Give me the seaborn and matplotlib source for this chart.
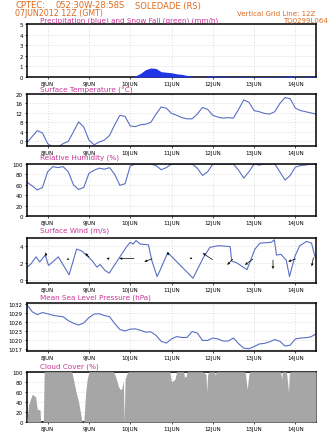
import numpy as np
import pandas as pd
import matplotlib
matplotlib.use("Agg")
import matplotlib.pyplot as plt
import seaborn as sns

# ---------------------------------------------------------------- data
# time axis: hours after 08JUN2012 00Z, 3-hourly
hours_3h = np.arange(0, 169, 3)
day_ticks = [12, 36, 60, 84, 108, 132, 156]
day_labels = ["8JUN", "9JUN", "10JUN", "11JUN", "12JUN", "13JUN", "14JUN"]

precip = [0, 0, 0, 0, 0, 0, 0, 0,
          0, 0, 0, 0, 0, 0, 0, 0,
          0, 0, 0, 0, 0, 0.10, 0.35, 0.70,
          0.85, 0.80, 0.50, 0.45, 0.40, 0.30, 0.25, 0.15,
          0.05, 0, 0, 0.08, 0.12, 0.05, 0.10, 0.05,
          0.02, 0.05, 0.08, 0.03, 0.05, 0.05, 0.02, 0.05,
          0.03, 0.05, 0.08, 0.10, 0.05, 0.02, 0.05, 0.08, 0.03]

temperature = [-0.5, 2.0, 4.5, 3.5, -1.0, -2.5, -2.5, -1.0,
               0.0, 4.0, 8.2, 6.0, 0.5, -1.5, -0.3, 0.5,
               2.5, 7.0, 11.0, 10.5, 6.5, 6.2, 7.0, 7.2,
               8.0, 11.5, 14.5, 14.0, 11.8, 11.0, 10.0, 9.5,
               9.5, 11.5, 14.3, 13.5, 11.0, 10.2, 9.8, 10.0,
               9.8, 13.5, 17.5, 16.5, 13.0, 12.5, 11.8, 11.5,
               12.5, 16.0, 18.5, 18.0, 14.0, 13.0, 12.5, 12.0, 11.5]

humidity = [65, 58, 50, 55, 85, 95, 93, 95,
            85, 60, 51, 55, 82, 88, 92, 90,
            93, 80, 59, 62, 96, 100, 100, 100,
            100, 97, 89, 93, 100, 100, 100, 100,
            100, 92, 78, 85, 100, 100, 100, 100,
            100, 88, 73, 85, 100, 98, 100, 100,
            100, 85, 69, 78, 94, 97, 98, 100, 100]

pressure = [1031.8, 1029.5, 1028.5, 1029.2, 1028.8, 1028.3, 1028.0, 1027.8,
            1026.5, 1025.6, 1025.0, 1025.7, 1027.5, 1028.7, 1028.8, 1028.2,
            1027.8, 1025.5, 1023.5, 1023.0, 1023.6, 1023.7, 1023.2, 1022.6,
            1022.7, 1021.5, 1019.5, 1018.9, 1020.3, 1021.1, 1020.8, 1020.8,
            1022.8, 1022.3, 1019.8, 1019.8, 1020.6, 1020.3, 1019.6, 1019.6,
            1020.6, 1018.7, 1017.2, 1017.0, 1017.7, 1018.6, 1018.8, 1019.3,
            1020.1, 1019.5, 1017.9, 1018.2, 1020.3, 1020.6, 1020.7, 1021.0, 1022.0]

# surface wind speed (m/s) at its own sample times
wind_hours = [0, 2.4, 5.3, 7.4, 10.6, 12.5, 14.4, 18.2, 24.5, 28.8, 31.7, 37.7,
              40.6, 42.5, 45.4, 47.8, 54, 57.6, 60, 61.7, 63.4, 65.8, 70.6, 72.5,
              75.6, 77.3, 81.8, 96.5, 102.5, 106.3, 111.1, 118.1, 119, 121.9,
              127.9, 132.5, 135.4, 142.1, 143.8, 145, 147.6, 150.7, 152.6,
              155.8, 158.6, 162.5, 165.4, 167.3, 168]
wind_speed = [1.45, 1.9, 2.7, 2.1, 2.9, 1.7, 2.0, 2.7, 0.6, 3.6, 3.4, 2.3,
              1.5, 1.8, 1.1, 0.8, 2.7, 3.8, 4.4, 4.2, 4.6, 4.2, 4.1, 2.3,
              0.4, 1.1, 3.2, 0.2, 2.6, 3.8, 4.0, 3.9, 2.2, 2.0,
              1.2, 3.6, 4.3, 4.4, 4.7, 2.9, 3.0, 2.3, 0.4,
              2.8, 4.0, 4.5, 4.3, 2.8, 2.5]

# wind direction vectors
arrow_hours = [11, 24, 35, 47, 58, 70.5, 82, 95.5, 105, 118, 129, 143, 154, 166]
arrow_level = [3.0, 2.4, 2.9, 2.5, 2.5, 2.3, 3.1, 2.5, 2.75, 2.1, 2.1, 1.8, 2.3, 2.1]
arrow_u = [-0.5, 2.0, -4.0, -3.0, -15.0, -8.0, -0.5, 2.0, -10.0, -5.7, -8.3, 0.0, -7.7, -1.7]
arrow_v = [4.0, -1.5, 4.0, 0.3, 0.0, -3.0, 3.5, -1.5, 6.7, -6.0, -6.0, -9.3, -2.7, -9.0]

# cloud cover (%)
cloud_hours = [0, 1, 3, 5, 6, 7.5, 8, 9.5, 10,
               26, 27, 28.5, 30, 31, 32, 33, 33.5, 34, 35, 36,
               50, 51, 52, 53, 54, 55, 56, 56.5, 57, 58, 59,
               83, 84, 86, 87, 91, 91.5, 92.5, 93,
               102, 104, 104.5, 105, 106, 109, 109.5, 110,
               126.5, 127, 128, 129, 129.5,
               147.5, 148, 148.5, 150.5, 151, 152, 152.5, 153, 168]
cloud_cover = [5, 35, 55, 50, 25, 25, 0, 0, 100,
               100, 85, 60, 40, 20, 0, 0, 25, 55, 85, 100,
               100, 95, 85, 72, 65, 65, 82, 0, 85, 95, 100,
               100, 80, 85, 100, 100, 90, 90, 100,
               100, 95, 60, 95, 100, 100, 93, 100,
               100, 95, 65, 95, 100,
               100, 85, 100, 100, 95, 60, 95, 100, 100]

# ---------------------------------------------------------------- style
sns.set_theme(style="white")
plt.rcParams['font.family'] = ['DejaVu Sans']

W, H = 336, 435
HEAD = "#dd6a1c"
TITLE = "#cc3399"
LINE = "#5a6fc4"
GRID = "#cfcfcf"

fig = plt.figure(figsize=(W / 100, H / 100), dpi=100)
fig.patch.set_facecolor("white")

X0, X1 = 27, 316


def panel(top, bottom):
    ax = fig.add_axes([X0 / W, 1 - bottom / H, (X1 - X0) / W, (bottom - top) / H])
    ax.set_xlim(0, 168)
    ax.set_xticks(day_ticks)
    ax.set_xticklabels(day_labels)
    ax.tick_params(axis="both", labelsize=4, length=1.5, width=0.5, pad=1.5,
                   colors="black", direction="out")
    ax.tick_params(axis="x", bottom=True)
    ax.tick_params(axis="y", left=True)
    ax.grid(True, color=GRID, linestyle=(0, (1, 2.2)), linewidth=0.6)
    for s in ax.spines.values():
        s.set_color("black")
        s.set_linewidth(1.1)
    ax.set_xlabel("")
    ax.set_ylabel("")
    return ax


def ptitle(text, y):
    fig.text(40 / W, 1 - y / H, text, color=TITLE, fontsize=5.2,
             ha="left", va="center")


# header
fig.text(15 / W, 1 - 6 / H, "CPTEC:", color=HEAD, fontsize=6.0, va="center")
fig.text(55 / W, 1 - 6 / H, "052:30W-28:58S", color=HEAD, fontsize=6.0, va="center")
fig.text(135 / W, 1 - 6 / H, "SOLEDADE (RS)", color=HEAD, fontsize=6.0, va="center")
fig.text(15 / W, 1 - 14 / H, "07JUN2012 12Z (GMT)", color=HEAD, fontsize=5.7, va="center")
fig.text(315 / W, 1 - 13.5 / H, "Vertical Grid Line: 12Z", color=HEAD, fontsize=5.0,
         va="center", ha="right")
fig.text(328 / W, 1 - 21 / H, "TQ0299L064", color=HEAD, fontsize=5.0,
         va="center", ha="right")

# precipitation
ax1 = panel(25, 78)
ptitle("Precipitation (blue) and Snow Fall (green) (mm/h)", 21)
ax1.fill_between(hours_3h, 0, precip, color="#1f35e6", linewidth=0, zorder=3)
ax1.set_ylim(0, 5)
ax1.set_yticks(range(0, 6))

# surface temperature
ax2 = panel(95, 147)
ptitle("Surface Temperature (\u00b0C)", 90)
sns.lineplot(x=hours_3h, y=temperature, ax=ax2, color=LINE, linewidth=0.8)
ax2.set_ylim(-2, 20)
ax2.set_yticks(range(0, 21, 4))

# relative humidity
ax3 = panel(165, 217)
ptitle("Relative Humidity (%)", 158)
sns.lineplot(x=hours_3h, y=humidity, ax=ax3, color=LINE, linewidth=0.8)
ax3.set_ylim(0, 100)
ax3.set_yticks(range(0, 101, 20))

# surface wind
ax4 = panel(239, 283.5)
ptitle("Surface Wind (m/s)", 231)
sns.lineplot(x=wind_hours, y=wind_speed, ax=ax4, color=LINE, linewidth=0.8)
ax4.quiver(arrow_hours, arrow_level, arrow_u, arrow_v, angles="uv",
           scale_units="dots", scale=1, units="dots", width=0.7,
           headwidth=4.0, headlength=4.5, headaxislength=4.0,
           pivot="middle", color="black", zorder=4)
ax4.set_ylim(-0.3, 4.9)
ax4.set_yticks([0, 2, 4])

# mean sea level pressure
ax5 = panel(303.5, 351.5)
ptitle("Mean Sea Level Pressure (hPa)", 298)
sns.lineplot(x=hours_3h, y=pressure, ax=ax5, color=LINE, linewidth=0.8)
ax5.set_ylim(1016.4, 1032.6)
ax5.set_yticks(range(1017, 1033, 3))

# cloud cover
ax6 = panel(372.7, 423)
ptitle("Cloud Cover (%)", 366.5)
ax6.fill_between(cloud_hours, 0, cloud_cover, color="#a6a6a6", linewidth=0, zorder=3)
ax6.set_ylim(0, 100)
ax6.set_yticks(range(0, 101, 20))

fig.savefig("out.png", dpi=100, facecolor="white")
